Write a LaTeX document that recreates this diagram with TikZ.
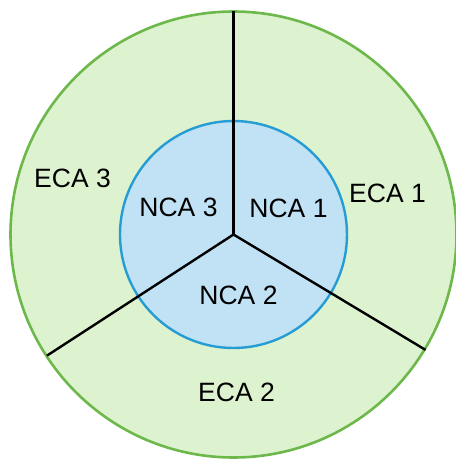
\documentclass[tikz,border=0pt]{standalone}
\usepackage{fontspec}
\setmainfont{Liberation Sans}
\definecolor{ecafill}{RGB}{221,242,207}
\definecolor{ecaline}{RGB}{108,184,74}
\definecolor{ncafill}{RGB}{192,226,244}
\definecolor{ncaline}{RGB}{38,156,212}
\tikzset{lbl/.style={font=\fontsize{26.5}{30}\selectfont}}

\begin{document}
\begin{tikzpicture}[x=1pt,y=1pt]
\useasboundingbox(-233.5,-224.5)rectangle(222.5,234.5);
\coordinate(c)at(0,0);
\draw[ecaline,fill=ecafill,line width=2.6pt](c)circle(223);
\draw[ncaline,fill=ncafill,line width=2.4pt](c)circle(113.5);
\coordinate(e1)at(90:224);\coordinate(e2)at(213:222.5);\coordinate(e3)at(-31:224);
\draw[line width=2.4pt](c)--(e1);\draw[line width=2.4pt](c)--(e2);\draw[line width=2.4pt](c)--(e3);
\node[lbl](eca3)at(-161,56.5){ECA 3};\node[lbl](eca1)at(154,41.5){ECA 1};
\node[lbl](nca3)at(-55,27.5){NCA 3};\node[lbl](nca1)at(55,26.5){NCA 1};
\node[lbl](nca2)at(5,-60.5){NCA 2};\node[lbl](eca2)at(3,-157.5){ECA 2};
\end{tikzpicture}
\end{document}
